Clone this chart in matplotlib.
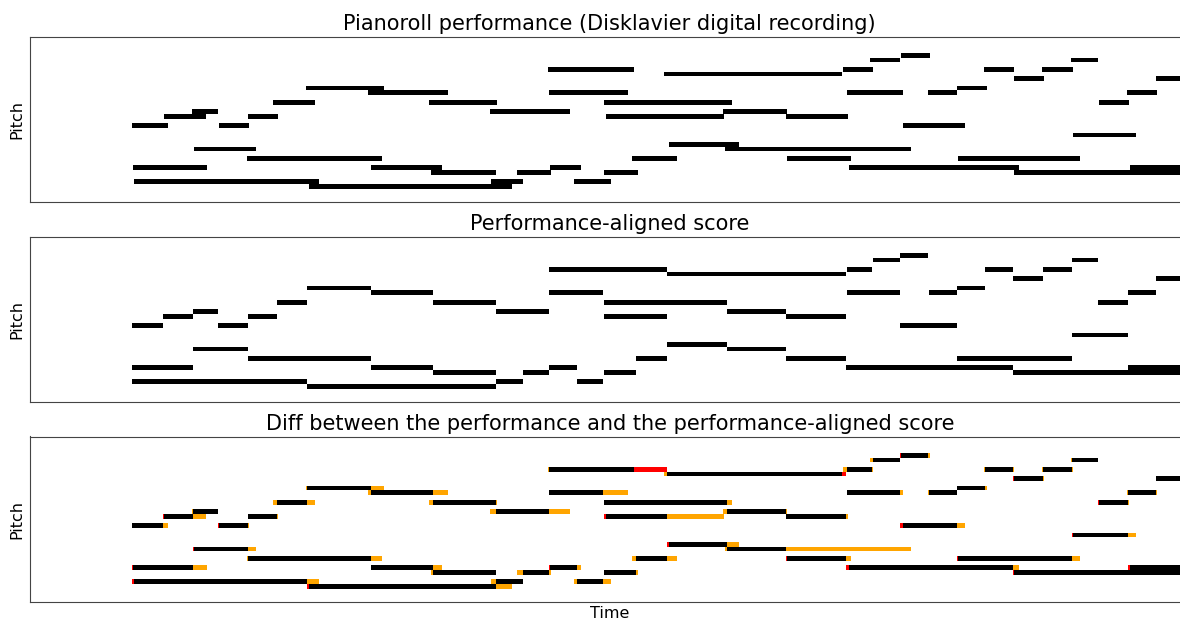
import numpy as np
import matplotlib
matplotlib.use("Agg")
import matplotlib.pyplot as plt
from matplotlib.colors import ListedColormap, BoundaryNorm

# ---- performance notes (onset, offset in frames; MIDI pitch) ----
perf_onset = [131.0, 132.0, 133.0, 163.3, 191.7, 193.3, 218.7, 246.7, 247.7, 272.7,
              305.7, 308.0, 367.3, 370.0, 428.7, 430.7, 489.0, 490.0, 516.7, 547.0,
              548.0, 549.3, 573.0, 603.3, 605.3, 603.3, 631.3, 663.3, 667.7, 721.7,
              724.0, 785.3, 786.3, 842.3, 845.7, 847.7, 869.3, 900.0, 901.7, 926.7,
              956.0, 956.7, 982.7, 1012.7, 1012.7, 1041.0, 1070.0, 1072.3, 1098.3, 1126.0,
              1129.3, 1155.3]
perf_offset = [167.0, 206.7, 318.0, 205.7, 217.0, 255.7, 248.3, 381.3, 277.3, 314.7,
               383.3, 511.0, 447.7, 441.7, 496.7, 495.7, 569.3, 522.7, 550.7, 633.0,
               626.7, 580.0, 610.3, 730.7, 723.0, 637.0, 675.7, 841.0, 738.3, 785.7,
               909.7, 847.3, 850.3, 872.3, 902.3, 1018.3, 899.3, 929.3, 963.7, 955.7,
               985.7, 1079.3, 1012.7, 1042.7, 1195.0, 1072.0, 1096.7, 1135.3, 1128.3, 1156.0,
               1195.0, 1195.0]
perf_pitch = [53, 44, 41, 55, 56, 48, 53, 46, 55, 58,
              61, 40, 60, 44, 58, 43, 56, 41, 43, 65,
              60, 44, 41, 58, 55, 43, 46, 64, 49, 56,
              48, 55, 46, 65, 60, 44, 67, 68, 53, 60,
              61, 46, 65, 63, 43, 65, 67, 51, 58, 60,
              44, 63]

# ---- performance-aligned score notes ----
score_onset = [131.0, 131.0, 131.0, 162.3, 192.7, 192.7, 217.3, 247.7, 247.7, 276.7,
               306.7, 306.7, 370.0, 370.0, 432.3, 432.3, 495.7, 495.7, 522.0, 548.0,
               548.0, 548.0, 576.0, 603.3, 603.3, 603.3, 635.3, 666.0, 666.0, 725.7,
               725.7, 785.0, 785.0, 845.7, 845.7, 845.3, 871.7, 899.3, 899.3, 927.7,
               955.7, 955.7, 984.0, 1012.0, 1011.7, 1042.3, 1071.3, 1071.3, 1097.3, 1127.3,
               1127.3, 1155.3]
score_offset = [162.3, 192.7, 306.7, 192.7, 217.0, 247.7, 247.7, 370.0, 276.7, 306.7,
                370.0, 495.7, 432.3, 432.3, 495.7, 495.7, 548.0, 522.0, 548.0, 666.0,
                602.7, 576.0, 602.7, 725.7, 666.0, 635.3, 666.0, 845.3, 725.7, 785.0,
                785.0, 845.3, 845.3, 871.0, 899.3, 1011.7, 899.3, 927.3, 955.7, 955.7,
                983.7, 1071.0, 1011.7, 1042.0, 1195.0, 1071.3, 1097.0, 1127.3, 1127.3, 1155.3,
                1195.0, 1195.0]
score_pitch = [53, 44, 41, 55, 56, 48, 53, 46, 55, 58,
               61, 40, 60, 44, 58, 43, 56, 41, 43, 65,
               60, 44, 41, 58, 55, 43, 46, 64, 49, 56,
               48, 55, 46, 65, 60, 44, 67, 68, 53, 60,
               61, 46, 65, 63, 43, 65, 67, 51, 58, 60,
               44, 63]

titles = ["Pianoroll performance (Disklavier digital recording)",
          "Performance-aligned score",
          "Diff between the performance and the performance-aligned score"]
diff_colors = ["black", "orange", "red"]   # both, performance only, score only

T0, T1, STEP = 29.5, 1195.0, 0.25
P_LO, P_HI = 36, 73
times = np.arange(T0, T1, STEP) + STEP / 2
pitches = np.arange(P_LO, P_HI + 1)
extent = (T0, T0 + len(times) * STEP, P_LO - 0.5, P_HI + 0.5)


def roll(on, off, pit):
    M = np.zeros((len(pitches), len(times)), dtype=bool)
    for a, b, p in zip(on, off, pit):
        M[p - P_LO, (times >= a) & (times < b)] = True
    return M


R_perf = roll(perf_onset, perf_offset, perf_pitch)
R_score = roll(score_onset, score_offset, score_pitch)

D = np.zeros(R_perf.shape)
D[R_perf & R_score] = 1
D[R_perf & ~R_score] = 2
D[~R_perf & R_score] = 3

W, H = 1180.0, 619.0
fig = plt.figure(figsize=(W / 100, H / 100), dpi=100)
tops = [36.7, 236.7, 436.5]
ax_h = 165.6
left_px, right_px = 29.5, 1190.0

mats = [np.ma.masked_equal(R_perf.astype(float), 0),
        np.ma.masked_equal(R_score.astype(float), 0),
        np.ma.masked_equal(D, 0)]
cmaps = [ListedColormap(["black"]), ListedColormap(["black"]), ListedColormap(diff_colors)]
norms = [BoundaryNorm([0.5, 1.5], 1), BoundaryNorm([0.5, 1.5], 1),
         BoundaryNorm([0.5, 1.5, 2.5, 3.5], 3)]

for i in range(3):
    ax = fig.add_axes([left_px / W, 1 - (tops[i] + ax_h) / H,
                       (right_px - left_px) / W, ax_h / H])
    ax.imshow(mats[i], extent=extent, origin="lower", aspect="auto",
              interpolation="nearest", cmap=cmaps[i], norm=norms[i])
    ax.set_xlim(left_px, right_px)
    ax.set_ylim(36.66, 72.14)
    ax.set_xticks([])
    ax.set_yticks([])
    ax.set_title(titles[i], fontsize=15, pad=5)
    ax.set_ylabel("Pitch", fontsize=11.5)
    for s in ax.spines.values():
        s.set_color("#444444")
    if i == 2:
        ax.set_xlabel("Time", fontsize=11.5, labelpad=3)

fig.savefig("out.png", dpi=100)
